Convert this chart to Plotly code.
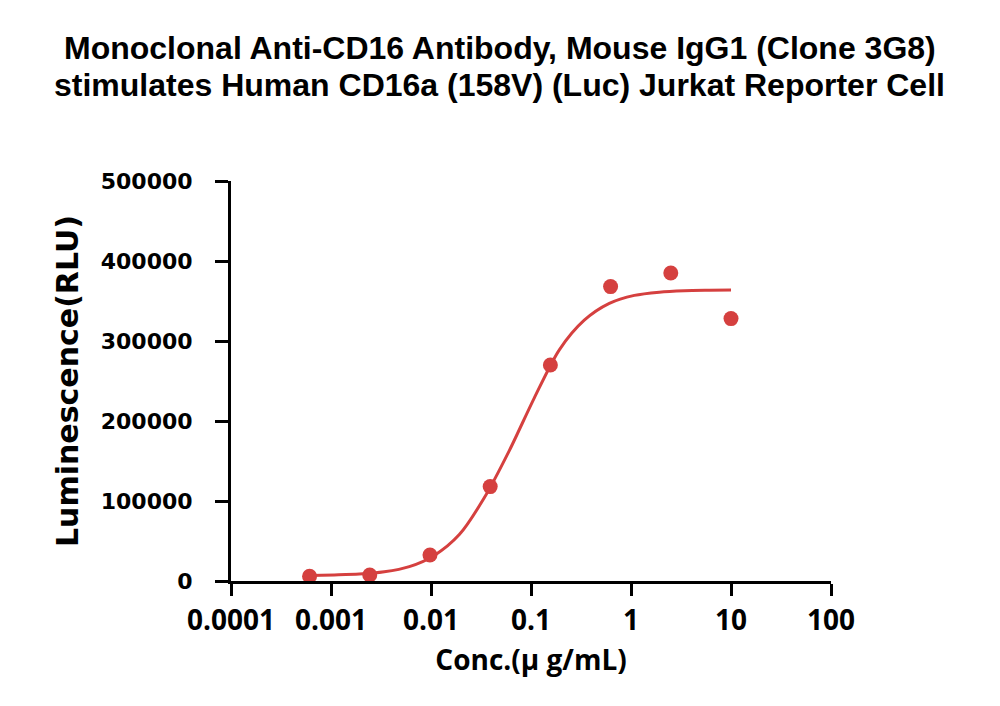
import plotly.graph_objects as go

# Measured points (4-fold dilution series)
conc = [0.00061035, 0.00244141, 0.00976563, 0.0390625, 0.15625, 0.625, 2.5, 10]
rlu = [6000, 7500, 32500, 118000, 270000, 368000, 385000, 328000]

# Fitted curve
curve_conc = [0.000607, 0.00108, 0.00192, 0.00341, 0.00607, 0.0108, 0.0192, 0.0341,
              0.0607, 0.108, 0.192, 0.341, 0.607, 1.08, 1.92, 3.41, 6.07, 10.0]
curve_rlu = [7000, 7600, 8600, 11500, 18000, 32000, 58000, 104000,
             163000, 229000, 289000, 326000, 347000, 357000, 361000, 362750, 363400, 363750]

x_tickvals = [0.0001, 0.001, 0.01, 0.1, 1, 10, 100]
x_ticktext = ["0.0001", "0.001", "0.01", "0.1", "1", "10", "100"]
y_tickvals = [0, 100000, 200000, 300000, 400000, 500000]
y_ticktext = ["0", "100000", "200000", "300000", "400000", "500000"]

title_lines = ["Monoclonal Anti-CD16 Antibody, Mouse IgG1 (Clone 3G8)",
               "stimulates Human CD16a (158V) (Luc) Jurkat Reporter Cell"]

red = "#D5403F"

fig = go.Figure()
fig.add_trace(go.Scatter(x=curve_conc, y=curve_rlu, mode="lines",
                         line=dict(color=red, width=3, shape="spline", smoothing=0.8),
                         showlegend=False, hoverinfo="skip"))
fig.add_trace(go.Scatter(x=conc, y=rlu, mode="markers",
                         marker=dict(color=red, size=15, line=dict(width=0)),
                         showlegend=False))

for text, ypos in zip(title_lines, [1.3325, 1.24]):
    fig.add_annotation(text="<b>" + text + "</b>", xref="paper", yref="paper",
                       x=0.448, y=ypos, xanchor="center", yanchor="middle",
                       showarrow=False,
                       font=dict(family="Liberation Sans, Arial", size=32, color="black"))

fig.update_layout(
    width=992, height=698,
    paper_bgcolor="white", plot_bgcolor="white",
    margin=dict(l=223, r=169, t=173, b=125),
    xaxis=dict(
        type="log", range=[-4, 2], tickvals=x_tickvals, ticktext=x_ticktext,
        showline=True, linecolor="black", linewidth=3,
        ticks="outside", ticklen=12, tickwidth=3, tickcolor="black",
        showgrid=False, zeroline=False,
        tickfont=dict(family="Open Sans", size=28, color="black", weight="bold"),
        title=dict(text="<b>Conc.(μ g/mL)</b>", standoff=14,
                   font=dict(family="Open Sans", size=28, color="black")),
    ),
    yaxis=dict(
        range=[0, 500000], tickvals=y_tickvals, ticktext=y_ticktext,
        showline=True, linecolor="black", linewidth=3,
        ticks="outside", ticklen=13, tickwidth=3, tickcolor="black",
        showgrid=False, zeroline=False, ticklabelstandoff=18,
        tickfont=dict(family="DejaVu Sans", size=22, color="black", weight="bold"),
        title=dict(text="<b>Luminescence(RLU)</b>", standoff=14,
                   font=dict(family="DejaVu Sans", size=30, color="black")),
    ),
)

fig.write_html("out.html")
